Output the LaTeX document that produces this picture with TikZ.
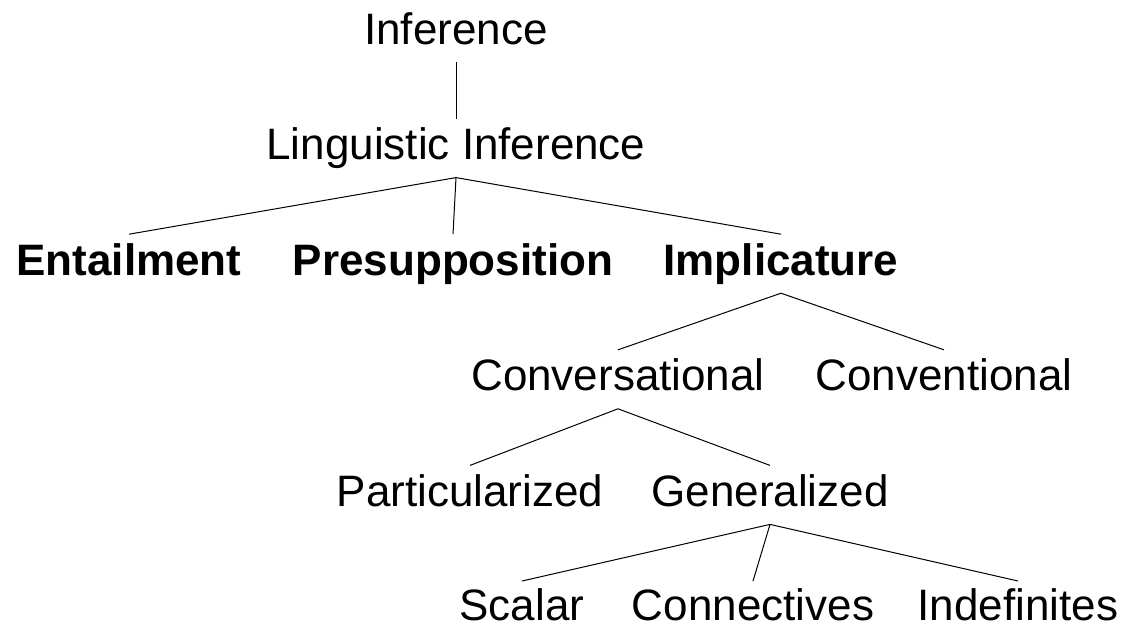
\documentclass[tikz,border=0pt]{standalone}
\usepackage{fontspec}
\setmainfont{Liberation Sans}
\begin{document}
\begin{tikzpicture}[x=1pt,y=-1pt,
  lbl/.style={anchor=base,inner sep=0pt,outer sep=0pt,text height=41pt,text depth=18pt,font=\fontsize{44}{50}\selectfont},
  blbl/.style={lbl,font=\fontsize{44}{50}\selectfont\bfseries},
  leaf/.style={lbl,text depth=1pt},
  edge/.style={line width=1pt,black}]
\useasboundingbox (0,0) rectangle (1125,625);
\node[lbl] (inf) at (456,44) {Inference};
\node[lbl] (ling) at (456,159.6) {Linguistic Inference};
\node[blbl] (ent) at (129,275.2) {Entailment};
\node[blbl] (pre) at (453,275.2) {Presupposition};
\node[blbl] (imp) at (781,275.2) {Implicature};
\node[lbl] (conv) at (618,390.8) {Conversational};
\node[lbl] (conl) at (944,390.8) {Conventional};
\node[lbl] (part) at (470,506.4) {Particularized};
\node[lbl] (gen) at (770,506.4) {Generalized};
\node[leaf,text height=39pt] (sca) at (522,620) {Scalar};
\node[leaf,text height=39pt] (con) at (753,620) {Connectives};
\node[leaf,text height=39pt] (ind) at (1018,620) {Indefinites};
\draw[edge] (inf.south) -- (ling.north);
\draw[edge] (ling.south) -- (ent.north);
\draw[edge] (ling.south) -- (pre.north);
\draw[edge] (ling.south) -- (imp.north);
\draw[edge] (imp.south) -- (conv.north);
\draw[edge] (imp.south) -- (conl.north);
\draw[edge] (conv.south) -- (part.north);
\draw[edge] (conv.south) -- (gen.north);
\draw[edge] (gen.south) -- (sca.north);
\draw[edge] (gen.south) -- (con.north);
\draw[edge] (gen.south) -- (ind.north);
\end{tikzpicture}
\end{document}
